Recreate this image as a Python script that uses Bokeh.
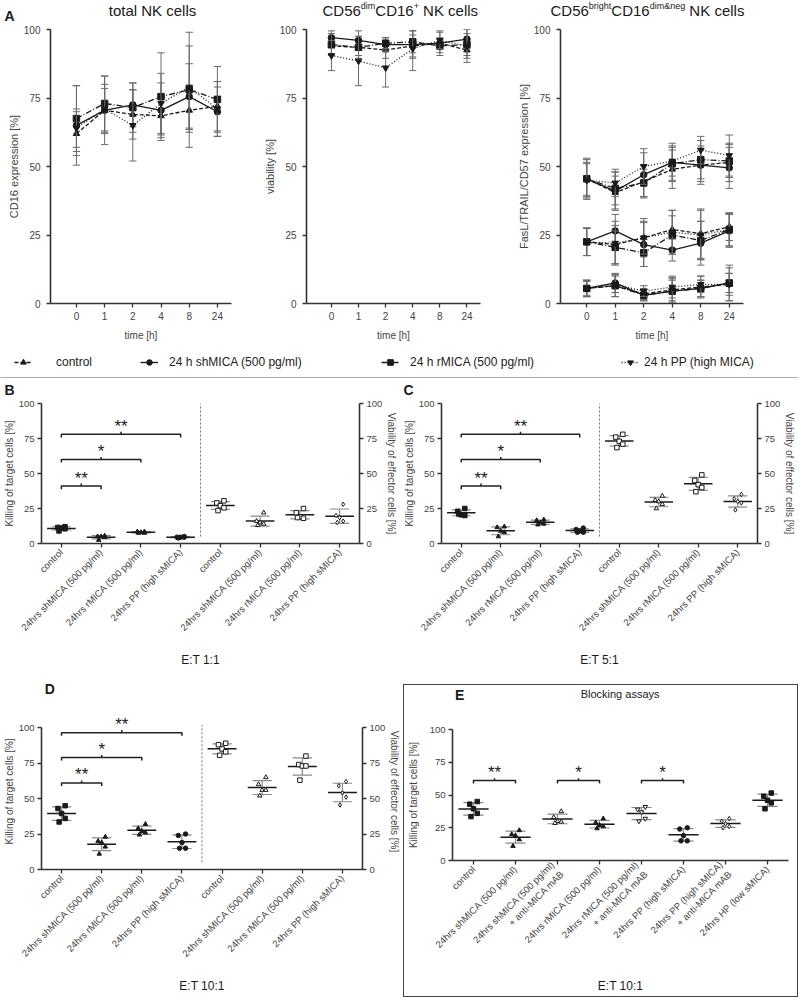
import numpy as np
from bokeh.plotting import figure
from bokeh.models import (Range1d, LinearAxis, FixedTicker, Label, Legend,
                          LegendItem, Span, Spacer)
from bokeh.layouts import column, row
from bokeh.embed import file_html
from bokeh.resources import INLINE

# ---------------------------------------------------------------- data
time_labels = ["0", "1", "2", "4", "8", "24"]
series_labels = ["control", "24 h shMICA (500 pg/ml)",
                 "24 h rMICA (500 pg/ml)", "24 h PP (high MICA)"]
y_ticks = [0, 25, 50, 75, 100]

# A, total NK cells: CD16 expression [%] (mean and SD)
cd16_control = [62, 70.5, 69, 68.5, 70.5, 72]
cd16_control_sd = [8, 8, 9, 7, 8, 9]
cd16_shmica = [65, 70.5, 72.5, 70.5, 75.5, 70]
cd16_shmica_sd = [14.5, 12.5, 8, 10, 12, 9]
cd16_rmica = [67.5, 73, 71.5, 75.5, 78, 74.5]
cd16_rmica_sd = [12, 10, 9, 16, 21, 12]
cd16_pp = [64, 71, 65, 73, 79, 71]
cd16_pp_sd = [7, 9, 13, 11, 15, 10]

# A, CD56dim CD16+ NK cells: viability [%]
via_control = [94, 93.5, 92.5, 94, 95, 92.5]
via_control_sd = [3, 3, 3, 4, 2, 3]
via_shmica = [97, 96, 94.5, 94.5, 95, 96.5]
via_shmica_sd = [2.5, 3.5, 2.5, 5, 4.5, 3.5]
via_rmica = [94.5, 93.5, 95, 95.5, 94, 94.5]
via_rmica_sd = [4, 4, 2, 4, 2.5, 4]
via_pp = [90.5, 88.5, 86, 93, 96, 94]
via_pp_sd = [5.5, 9, 7, 8, 3, 6]

# A, CD56bright CD16dim&neg NK cells: FasL / TRAIL / CD57 expression [%]
hi_control = [45.5, 40.5, 44.5, 49, 50.5, 51.5]
hi_control_sd = [7, 6, 6, 7, 7, 7]
hi_shmica = [45.5, 41, 47, 51.5, 50.5, 49.5]
hi_shmica_sd = [7.5, 7, 8, 7, 6, 7.5]
hi_rmica = [45.5, 42, 44, 51, 52.5, 52]
hi_rmica_sd = [6, 6, 5, 6, 7, 6]
hi_pp = [45, 44, 50, 52, 56, 54]
hi_pp_sd = [6, 5, 6.5, 5.5, 5, 7.5]

mid_control = [22.5, 21.5, 24, 27, 25.5, 28]
mid_control_sd = [5, 7, 7, 7, 9, 5]
mid_shmica = [22.5, 26.5, 21.5, 19.5, 22, 26.5]
mid_shmica_sd = [5, 6, 8, 4, 8, 6]
mid_rmica = [22.5, 20.5, 18.5, 25, 23, 27]
mid_rmica_sd = [5, 6, 5, 7, 7, 6]
mid_pp = [22.5, 22, 24, 26, 25, 27]
mid_pp_sd = [5, 8, 6, 8, 9, 6]

lo_control = [5.5, 6.5, 3.5, 5, 6, 7]
lo_control_sd = [3, 4, 2, 4, 4, 6]
lo_shmica = [5.5, 7.5, 3, 4.5, 5.5, 7.5]
lo_shmica_sd = [3, 3.5, 2, 5, 3, 6.5]
lo_rmica = [5.5, 6.5, 3, 4.5, 5.5, 7.5]
lo_rmica_sd = [2.5, 4, 2, 4, 3, 3.5]
lo_pp = [5.5, 7, 4.5, 6, 7, 7]
lo_pp_sd = [3, 3, 2, 4, 3, 4]

# B-D categories
cat_labels = ["control", "24hrs shMICA (500 pg/ml)",
              "24hrs rMICA (500 pg/ml)", "24hrs PP (high sMICA)"]

# B  E:T 1:1
b_kill_control = [12, 11.5, 11, 10.5, 9]
b_kill_shmica = [5.5, 5, 5, 4.5, 2.5]
b_kill_rmica = [8.5, 8.5, 8, 7.5, 7.5]
b_kill_pp = [5, 4.5, 4.5, 4.5, 4]
b_via_control = [30.5, 29, 27, 25.5, 23.5]
b_via_shmica = [22, 16, 15, 14, 13]
b_via_rmica = [25, 22, 19, 18, 18.5]
b_via_pp = [28, 20, 18.5, 16, 15]

# C  E:T 5:1
c_kill_control = [25, 23, 20.5, 20, 21]
c_kill_shmica = [12, 11.5, 9, 8, 5]
c_kill_rmica = [17, 16.5, 15, 14, 13.5]
c_kill_pp = [11, 10, 9, 8, 8]
c_via_control = [78, 76, 73, 71, 68.5]
c_via_shmica = [34, 31, 30, 28, 25]
c_via_rmica = [49, 45, 42, 40, 37]
c_via_pp = [35, 32, 30, 29, 24]

# D  E:T 10:1
d_kill_control = [45, 43, 39.5, 36, 33.5]
d_kill_shmica = [23, 20, 19, 16, 11]
d_kill_rmica = [32, 29, 27, 26, 24.5]
d_kill_pp = [25, 24, 19, 15, 15]
d_via_control = [89, 88, 85, 83, 80.5]
d_via_shmica = [65, 60, 56, 56, 52]
d_via_rmica = [80, 74, 73, 73, 63]
d_via_pp = [62, 59, 54, 51, 45.5]

# E  blocking assays, E:T 10:1
e_labels = ["control", "24hrs shMICA (500 pg/ml)",
            "24hrs shMICA (500 pg/ml)\n+ anti-MICA mAB",
            "24hrs rMICA (500 pg/ml)",
            "24hrs rMICA (500 pg/ml)\n+ anti-MICA mAB",
            "24hrs PP (high sMICA)",
            "24hrs PP (high sMICA)\n+ anti-MICA mAB",
            "24hrs HP (low sMICA)"]
e_control = [45, 43, 39.5, 36, 33.5]
e_shmica = [23, 20, 19, 16, 11]
e_shmica_mab = [37.5, 33, 30, 29.5, 28.5]
e_rmica = [32, 29, 27, 26, 24.5]
e_rmica_mab = [41, 39, 37, 32, 30]
e_pp = [25, 24, 19, 15, 15]
e_pp_mab = [32, 30, 28, 26, 25]
e_hp = [51.5, 49, 46, 44, 39.5]

# significance comparisons
bc_pairs = [(0, 1), (0, 2), (0, 3)]
bc_stars = ["**", "*", "**"]
bc_heights = [41, 60, 78]
d_heights = [61, 79, 96.5]
e_pairs = [(0, 1), (2, 3), (4, 5)]
e_stars = ["**", "*", "*"]
e_heights = [61, 61, 61]

# ---------------------------------------------------------------- style
FONT = "Liberation Sans"
INK = "#1a1a1a"
AXC = "#333333"
TXT = "#444444"
MARKERS = ["triangle", "circle", "square", "inverted_triangle"]
DASHES = ["4 2", "solid", "6 2 1 2", "1 2"]
JIT = np.array([0.09, -0.09, 0.0, 0.09, -0.06])

AW = {'C': 722, 'D': 722, '5': 556, '6': 556, '1': 556, 'd': 556, 'i': 222,
      'm': 833, '+': 584, ' ': 278, 'N': 722, 'K': 667, 'c': 500, 'e': 556,
      'l': 222, 's': 500, 'b': 556, 'r': 333, 'g': 556, 'h': 556, 't': 278,
      '&': 667, 'n': 556}


def tw(s, size):
    return sum(AW.get(ch, 556) for ch in s) * size / 1000.0


def clean(p):
    p.xgrid.visible = False
    p.ygrid.visible = False
    p.outline_line_color = None
    p.background_fill_color = "white"
    p.border_fill_color = "white"


def base_fig(width, height, xr, yr, mbl, mbr, mbt, mbb):
    p = figure(width=width, height=height, x_range=Range1d(*xr),
               y_range=Range1d(*yr), min_border_left=mbl,
               min_border_right=mbr, min_border_top=mbt,
               min_border_bottom=mbb, toolbar_location=None,
               output_backend="svg")
    clean(p)
    return p


def strip(width, height):
    """text strip: one data unit = one pixel"""
    p = figure(width=width, height=height, x_range=Range1d(0, width),
               y_range=Range1d(0, height), min_border=0,
               toolbar_location=None, output_backend="svg",
               x_axis_location=None, y_axis_location=None)
    clean(p)
    return p


def style_axis(ax, tick_size="9.5px", label_size="10px", label_standoff=6,
               tick_standoff=4):
    ax.axis_line_width = 1.6
    ax.axis_line_color = AXC
    ax.major_tick_line_color = AXC
    ax.major_tick_line_width = 1.3
    ax.major_tick_out = 4
    ax.major_tick_in = 0
    ax.minor_tick_line_color = None
    ax.major_label_text_font = FONT
    ax.major_label_text_font_size = tick_size
    ax.major_label_text_color = TXT
    ax.major_label_standoff = tick_standoff
    ax.axis_label_text_font = FONT
    ax.axis_label_text_font_style = "normal"
    ax.axis_label_text_font_size = label_size
    ax.axis_label_text_color = TXT
    ax.axis_label_standoff = label_standoff


def label(p, x, y, text, size, style="normal", align="left",
          baseline="middle", color=INK, xoff=0, yoff=0):
    p.add_layout(Label(x=x, y=y, text=text,
                       text_font=FONT, text_font_size=f"{size}px",
                       text_font_style=style, text_align=align,
                       text_baseline=baseline, text_color=color,
                       x_offset=xoff, y_offset=yoff))


def rich_title(p, parts, x0, y):
    x = x0
    for txt, sup in parts:
        size = 9 if sup else 15
        lead = len(txt) - len(txt.lstrip(" "))
        x += tw(" " * lead, size)
        t = txt.strip(" ")
        label(p, x, y + (4.5 if sup else 0), t, size)
        x += tw(t, size)


def hline(width, color="#444444"):
    return Spacer(width=width, height=1, styles={"background-color": color})


def vline(height, color="#444444"):
    return Spacer(width=1, height=height, styles={"background-color": color})


# ---------------------------------------------------------------- panel A
W = 798
STRIP_A = 24
HA = 320
FRAME_A = 274

sA = strip(W, STRIP_A)
label(sA, 4, 9, "A", 14, style="bold")
label(sA, 152, 14, "total NK cells", 15, align="center")
rich_title(sA, [("CD56", False), ("dim", True), ("CD16", False),
                ("+", True), (" NK cells", False)], 322, 14)
rich_title(sA, [("CD56", False), ("bright", True), ("CD16", False),
                ("dim&neg", True), (" NK cells", False)], 550, 14)


def panel_a(width, mbl, mbr, groups, ylabel):
    p = base_fig(width, HA, (-0.92, 5.5), (0, 100), mbl, mbr, 5,
                 HA - 5 - FRAME_A)
    x = np.arange(len(time_labels))
    for means, sds in groups:
        for k in range(4):
            m = np.asarray(means[k], float)
            s = np.asarray(sds[k], float)
            p.segment(x, m - s, x, m + s, line_color="#6a6a6a", line_width=1)
            p.segment(x - 0.13, m + s, x + 0.13, m + s,
                      line_color="#6a6a6a", line_width=1)
            p.segment(x - 0.13, m - s, x + 0.13, m - s,
                      line_color="#6a6a6a", line_width=1)
            p.line(x, m, line_color=INK, line_width=1.3,
                   line_dash=DASHES[k])
            p.scatter(x, m, marker=MARKERS[k], size=6.5, color=INK)
    p.xaxis.ticker = FixedTicker(ticks=list(range(len(time_labels))))
    p.xaxis.major_label_overrides = {i: t for i, t in enumerate(time_labels)}
    p.xaxis.axis_label = "time [h]"
    p.yaxis.ticker = FixedTicker(ticks=y_ticks)
    p.yaxis.axis_label = ylabel
    style_axis(p.xaxis[0], "10px", "10px", 7)
    style_axis(p.yaxis[0], "10px", "11px", 1, 6)
    return p


a1 = panel_a(260, 50, 29,
             [([cd16_control, cd16_shmica, cd16_rmica, cd16_pp],
               [cd16_control_sd, cd16_shmica_sd, cd16_rmica_sd, cd16_pp_sd])],
             "CD16 expression [%]")
a2 = panel_a(254, 38, 34,
             [([via_control, via_shmica, via_rmica, via_pp],
               [via_control_sd, via_shmica_sd, via_rmica_sd, via_pp_sd])],
             "viability [%]")
a3 = panel_a(284, 45, 55,
             [([hi_control, hi_shmica, hi_rmica, hi_pp],
               [hi_control_sd, hi_shmica_sd, hi_rmica_sd, hi_pp_sd]),
              ([mid_control, mid_shmica, mid_rmica, mid_pp],
               [mid_control_sd, mid_shmica_sd, mid_rmica_sd, mid_pp_sd]),
              ([lo_control, lo_shmica, lo_rmica, lo_pp],
               [lo_control_sd, lo_shmica_sd, lo_rmica_sd, lo_pp_sd])],
             "FasL/TRAIL/CD57 expression [%]")

# ---------------------------------------------------------------- legend
LEG_H = 36
leg = figure(width=W, height=LEG_H, x_range=Range1d(0, 1),
             y_range=Range1d(0, 1), min_border=0, toolbar_location=None,
             output_backend="svg", x_axis_location=None, y_axis_location=None)
clean(leg)
leg.add_layout(Span(location=3 / LEG_H, dimension="width",
                    line_color="#555555", line_dash="1 1", line_width=1))
legend_x = [14, 140, 381, 621]
legend_standoff = [24, 11, 11, 5]
for k, lab in enumerate(series_labels):
    rl = leg.line(x=[np.nan], y=[np.nan], line_color=INK, line_width=1.3,
                  line_dash=DASHES[k])
    rs = leg.scatter(x=[np.nan], y=[np.nan], marker=MARKERS[k], size=6.5,
                     color=INK)
    lg = Legend(items=[LegendItem(label=lab, renderers=[rl, rs])],
                location=(legend_x[k], 11), orientation="horizontal",
                padding=0, margin=0, border_line_color=None,
                border_line_alpha=0, background_fill_color=None,
                background_fill_alpha=0, label_text_font=FONT,
                label_text_font_size="12px", label_text_color="#222222",
                glyph_width=18, glyph_height=14,
                label_standoff=legend_standoff[k])
    leg.add_layout(lg)


# ---------------------------------------------------------------- B-E
def draw_groups(p, groups, markers, fills, offset=0, rn=None):
    kw = {"y_range_name": rn} if rn else {}
    for i, (pts, mk, fl) in enumerate(zip(groups, markers, fills)):
        xc = i + offset
        pts = np.asarray(pts, float)
        m, s = pts.mean(), pts.std(ddof=1)
        p.segment([xc, xc - 0.24, xc - 0.24], [m - s, m + s, m - s],
                  [xc, xc + 0.24, xc + 0.24], [m + s, m + s, m - s],
                  line_color="#8a8a8a", line_width=1.2, **kw)
        p.segment([xc - 0.36], [m], [xc + 0.36], [m], line_color=INK,
                  line_width=1.5, **kw)
        p.scatter(xc + JIT[:len(pts)], pts, marker=mk, size=4.5,
                  line_color=INK, fill_color=INK if fl else "white",
                  line_width=1, **kw)


def brackets(p, pairs, heights, stars):
    xs, ys = [], []
    for (a, b), h, st in zip(pairs, heights, stars):
        xs.append([a, a, b, b])
        ys.append([h - 2.2, h, h, h - 2.2])
        mid = (a + b) / 2
        xs.append([mid, mid])
        ys.append([h, h + 1.8])
        label(p, mid, h, st, 17, align="center", baseline="middle", yoff=8)
    p.multi_line(xs, ys, line_color="#222222", line_width=1.5)


def dot_fig(width, height, mbl, mbr, mbt, mbb, labels, xlabel, ytop=100,
            right=True, ylab_standoff=1):
    n = len(labels)
    p = base_fig(width, height, (-0.5, n - 0.5), (0, ytop), mbl, mbr, mbt,
                 mbb)
    p.yaxis.ticker = FixedTicker(ticks=y_ticks)
    p.yaxis.bounds = (0, 100)
    p.yaxis.axis_label = "Killing of target cells [%]"
    p.xaxis.ticker = FixedTicker(ticks=list(range(n)))
    p.xaxis.major_label_overrides = {i: t for i, t in enumerate(labels)}
    p.xaxis.major_label_orientation = np.pi / 4
    p.xaxis.axis_label = xlabel
    style_axis(p.yaxis[0], "9.5px", "10px", ylab_standoff, 3)
    style_axis(p.xaxis[0], "9.5px", "12px", 13, 3)
    p.xaxis[0].axis_label_text_color = INK
    if right:
        p.extra_y_ranges = {"via": Range1d(0, ytop)}
        ax = LinearAxis(y_range_name="via", ticker=FixedTicker(ticks=y_ticks),
                        axis_label="Viability of effector cells [%]",
                        bounds=(0, 100))
        style_axis(ax, "9.5px", "10px", 1, 3)
        p.add_layout(ax, "right")
    return p


kill_markers = ["square", "triangle", "triangle", "circle"]
kill_fills = [True, True, True, True]
via_markers = ["square", "triangle", "square", "diamond"]
via_fills = [False, False, False, False]
all_labels = cat_labels + cat_labels
sep_x = len(cat_labels) - 0.5


def bcd_panel(width, height, mbl, mbr, mbt, mbb, kill, via, xlabel, heights,
              ytop=100, sep_top=100):
    p = dot_fig(width, height, mbl, mbr, mbt, mbb, all_labels, xlabel, ytop)
    p.segment([sep_x], [5], [sep_x], [sep_top], line_color="#777777",
              line_width=1, line_dash="2 2")
    draw_groups(p, kill, kill_markers, kill_fills)
    draw_groups(p, via, via_markers, via_fills, offset=len(cat_labels),
                rn="via")
    brackets(p, bc_pairs, heights, bc_stars)
    return p


# row B / C
STRIP_BC = 18
HBC = 282
FRAME_BC = 140
sBC = strip(W, STRIP_BC)
label(sBC, 4, 9, "B", 14, style="bold")
label(sBC, 403, 9, "C", 14, style="bold")

pb = bcd_panel(400, HBC, 36, 36, 5, HBC - 5 - FRAME_BC,
               [b_kill_control, b_kill_shmica, b_kill_rmica, b_kill_pp],
               [b_via_control, b_via_shmica, b_via_rmica, b_via_pp],
               "E:T 1:1", bc_heights)
pc = bcd_panel(398, HBC, 36, 36, 5, HBC - 5 - FRAME_BC,
               [c_kill_control, c_kill_shmica, c_kill_rmica, c_kill_pp],
               [c_via_control, c_via_shmica, c_via_rmica, c_via_pp],
               "E:T 5:1", bc_heights)

# row D / E
STRIP_D = 26
HD = 292
FRAME_D = 156           # 0 .. 110
sD = strip(403, STRIP_D)
label(sD, 4, 18, "D", 14, style="bold")
pd_ = bcd_panel(403, HD, 36, 39, 7, HD - 7 - FRAME_D,
                [d_kill_control, d_kill_shmica, d_kill_rmica, d_kill_pp],
                [d_via_control, d_via_shmica, d_via_rmica, d_via_pp],
                "E:T 10:1", d_heights, ytop=110, sep_top=102)

EW = 393                # inner width of the E box
STRIP_E = 39
HE = 272
FRAME_E = 140
sE = strip(EW, STRIP_E)
label(sE, 3, 30, "E", 14, style="bold")
label(sE, 196, 31, "Blocking assays", 11, align="center")
pe = dot_fig(EW, HE, 46, 9, 5, HE - 5 - FRAME_E, e_labels, "E:T 10:1",
             right=False, ylab_standoff=8)
draw_groups(pe, [e_control, e_shmica, e_shmica_mab, e_rmica, e_rmica_mab,
                 e_pp, e_pp_mab, e_hp],
            ["square", "triangle", "triangle", "triangle",
             "inverted_triangle", "circle", "diamond", "square"],
            [True, True, False, True, False, True, False, True])
brackets(pe, e_pairs, e_heights, e_stars)
BOX_H = STRIP_E + HE + 2
box_e = row(vline(BOX_H),
            column(hline(EW), sE, pe, hline(EW)),
            vline(BOX_H))

layout = column(
    sA,
    row(a1, a2, a3),
    leg,
    sBC,
    row(pb, pc),
    row(column(sD, pd_),
        column(Spacer(width=EW + 2, height=4), box_e,
               Spacer(width=EW + 2, height=1))),
)

open("out.html", "w").write(file_html(layout, INLINE))
